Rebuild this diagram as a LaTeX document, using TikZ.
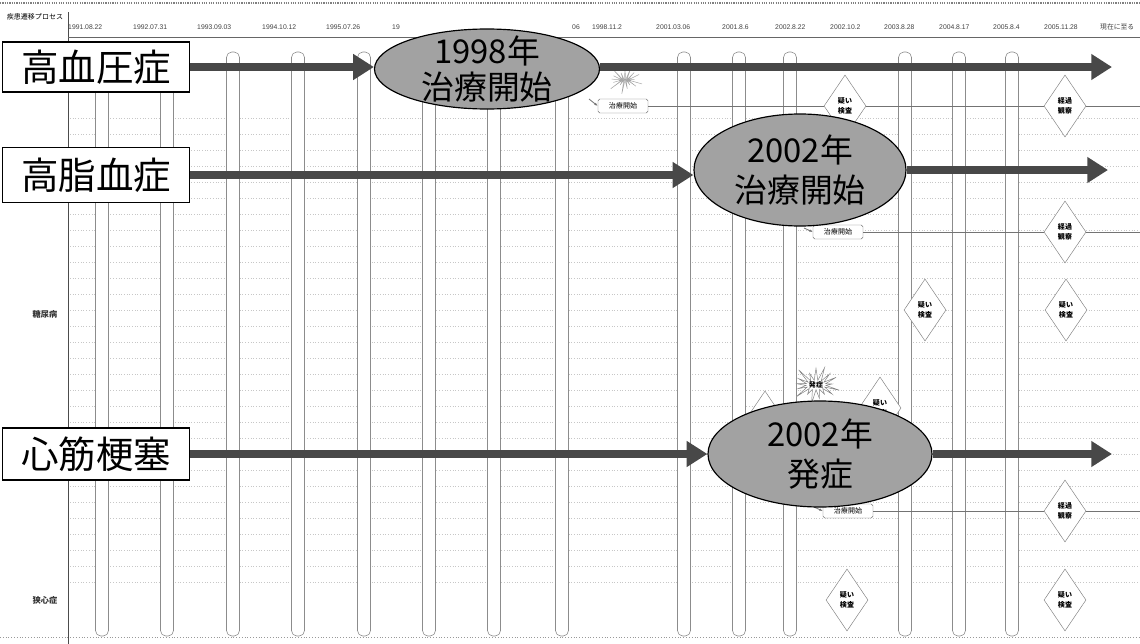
\documentclass[tikz,border=0pt]{standalone}
\usepackage{fontspec}
\setmainfont{Liberation Sans}
\newfontfamily\jpfont{Noto Sans CJK JP}
\usetikzlibrary{arrows.meta, shapes.geometric, shapes.symbols}
\definecolor{ovalgray}{RGB}{162, 162, 162}
\definecolor{shaftgray}{RGB}{72, 72, 72}

\begin{document}
\begin{tikzpicture}[x=0.03cm, y=-0.03cm,
        dbox/.style={draw=black, line width=1.1pt, fill=white, minimum width=5.61cm,
            minimum height=1.5cm, inner sep=0pt, font=\jpfont\fontsize{32}{34}\selectfont},
        oval/.style={ellipse, draw=black, line width=1pt, fill=ovalgray, inner sep=0pt},
        ovaltext/.style={align=center, inner sep=0pt, font=\jpfont\fontsize{28}{34}\selectfont},
        fatarrow/.style={draw=shaftgray, line width=6pt, -{Triangle[length=0.62cm, width=0.74cm]}},
        datelbl/.style={anchor=west, inner sep=0pt, text=black!75, font=\fontsize{5.8}{6}\selectfont},
        colbar/.style={draw=black!45, line width=0.5pt, fill=white, rounded corners=0.16cm},
        tag/.style={draw=black!55, fill=white, rounded corners=1.5pt, inner sep=1pt,
            minimum width=1.5cm, minimum height=0.42cm, font=\jpfont\fontsize{6}{6}\selectfont},
        check/.style={diamond, draw=black!50, fill=white, inner sep=0pt, aspect=0.7,
            minimum width=1.26cm, minimum height=1.86cm, align=center,
            font=\jpfont\bfseries\fontsize{6}{8}\selectfont},
        tline/.style={draw=black!55, line width=0.7pt},
        rowlbl/.style={inner sep=0pt, text=black!80, font=\jpfont\bfseries\fontsize{7}{8}\selectfont}
    ]
    \useasboundingbox (0,0) rectangle (1140,644);

    % frame and header
    \draw[black!50, densely dotted, line width=1pt] (0,3) -- (1140,3);
    \draw[black!70, line width=0.6pt] (68,12) -- (68,644);
    \draw[black!60, line width=0.6pt] (68,37) -- (1140,37);
    \node[inner sep=0pt, font=\jpfont\fontsize{6}{7}\selectfont] (hdr) at (35,17) {疾患遷移プロセス};
    \foreach \x/\d in {68/1991.08.22, 133/1992.07.31, 197/1993.09.03, 262/1994.10.12,
            326/1995.07.26, 392/19, 572/06, 592/1998.11.2, 656/2001.03.06, 722/2001.8.6,
            775/2002.8.22, 830/2002.10.2, 884/2003.8.28, 939/2004.8.17, 993/2005.8.4,
            1044/2005.11.28}
        \node[datelbl] (d\x) at (\x,27) {\d};
    \node[datelbl, font=\jpfont\fontsize{5.8}{6}\selectfont] (dnow) at (1100,27) {現在に至る};

    % faint grid and date columns
    \foreach \y in {118,134,...,582}
        \draw[black!22, dotted, line width=0.3pt] (70,\y) -- (1140,\y);
    \draw[black!40, dotted, line width=0.4pt] (0,637) -- (1140,637);
    \foreach \x in {102,167,233,298,364,429,494,562,684,739,790,905,959,1012}
        \draw[colbar] (\x-6.5,636) rectangle (\x+6.5,52);

    \node[rowlbl] (dm) at (45,314) {糖尿病};
    \node[rowlbl] (ap) at (45,600) {狭心症};

    % treatment lines
    \node[tag] (t1) at (623,106) {治療開始};
    \node[check] (c1a) at (845,106) {疑い\\検査};
    \node[check] (c1b) at (1065,106) {経過\\観察};
    \coordinate (t1in) at (589,99);
    \coordinate (r1end) at (1140,106);
    \draw[tline, -{Latex[length=3pt]}] (t1in) -- (t1.west);
    \draw[tline] (t1.east) -- (c1a.west);
    \draw[tline] (c1a.east) -- (c1b.west);
    \draw[tline] (c1b.east) -- (r1end);

    \node[tag] (t2) at (838,232) {治療開始};
    \node[check] (c2) at (1065,232) {経過\\観察};
    \coordinate (t2in) at (804,228);
    \coordinate (r2end) at (1140,232);
    \draw[tline, -{Latex[length=3pt]}] (t2in) -- (t2.west);
    \draw[tline] (t2.east) -- (c2.west);
    \draw[tline] (c2.east) -- (r2end);

    \node[check] (c4a) at (925,310) {疑い\\検査};
    \node[check] (c4b) at (1066,310) {疑い\\検査};

    \node[tag] (t3) at (848,511) {治療開始};
    \node[check] (c3) at (1065,511) {経過\\観察};
    \coordinate (t3in) at (814,507);
    \coordinate (r3end) at (1140,511);
    \draw[tline, -{Latex[length=3pt]}] (t3in) -- (t3.west);
    \draw[tline] (t3.east) -- (c3.west);
    \draw[tline] (c3.east) -- (r3end);

    \node[check] (c5a) at (847,600) {疑い\\検査};
    \node[check] (c5b) at (1065,600) {疑い\\検査};

    % marks behind the onset oval
    \node[check] (c6a) at (765,422) {};
    \node[check] (c6b) at (880,408) {疑い\\検査};
    \node[starburst, draw=black!50, fill=white, minimum width=1.35cm, minimum height=1.2cm,
        inner sep=0pt, font=\jpfont\bfseries\fontsize{6}{7}\selectfont] (onset) at (816,385) {発症};
    \node[starburst, draw=black!35, minimum width=1.2cm, minimum height=0.8cm,
        inner sep=0pt] (spark) at (625,80) {};

    % disease boxes, ovals and main arrows
    \node[dbox] (hbp) at (96,67) {高血圧症};
    \node[dbox, minimum height=1.65cm] (hl) at (96,175) {高脂血症};
    \node[dbox, minimum height=1.56cm] (mi) at (96,454) {心筋梗塞};

    \node[oval, minimum width=6.75cm, minimum height=2.4cm,
        label={[ovaltext, font=\jpfont\fontsize{28}{31}\selectfont]center:{1998年\\治療開始}}] (o1) at (487,69) {};
    \node[oval, minimum width=6.36cm, minimum height=3.36cm,
        label={[ovaltext]center:{2002年\\治療開始}}] (o2) at (800,170) {};
    \node[oval, minimum width=6.72cm, minimum height=3.18cm,
        label={[ovaltext]center:{2002年\\発症}}] (o3) at (820,454) {};

    \coordinate (a1end) at (1112,67);
    \coordinate (a2end) at (1108,170);
    \coordinate (a3end) at (1112,454);
    \draw[fatarrow] (hbp.east) -- (hbp.east -| o1.west);
    \draw[fatarrow] (o1.east |- a1end) -- (a1end);
    \draw[fatarrow] (hl.east) -- (hl.east -| o2.west);
    \draw[fatarrow] (o2.east) -- (a2end);
    \draw[fatarrow] (mi.east) -- (o3.west);
    \draw[fatarrow] (o3.east) -- (a3end);
\end{tikzpicture}
\end{document}
